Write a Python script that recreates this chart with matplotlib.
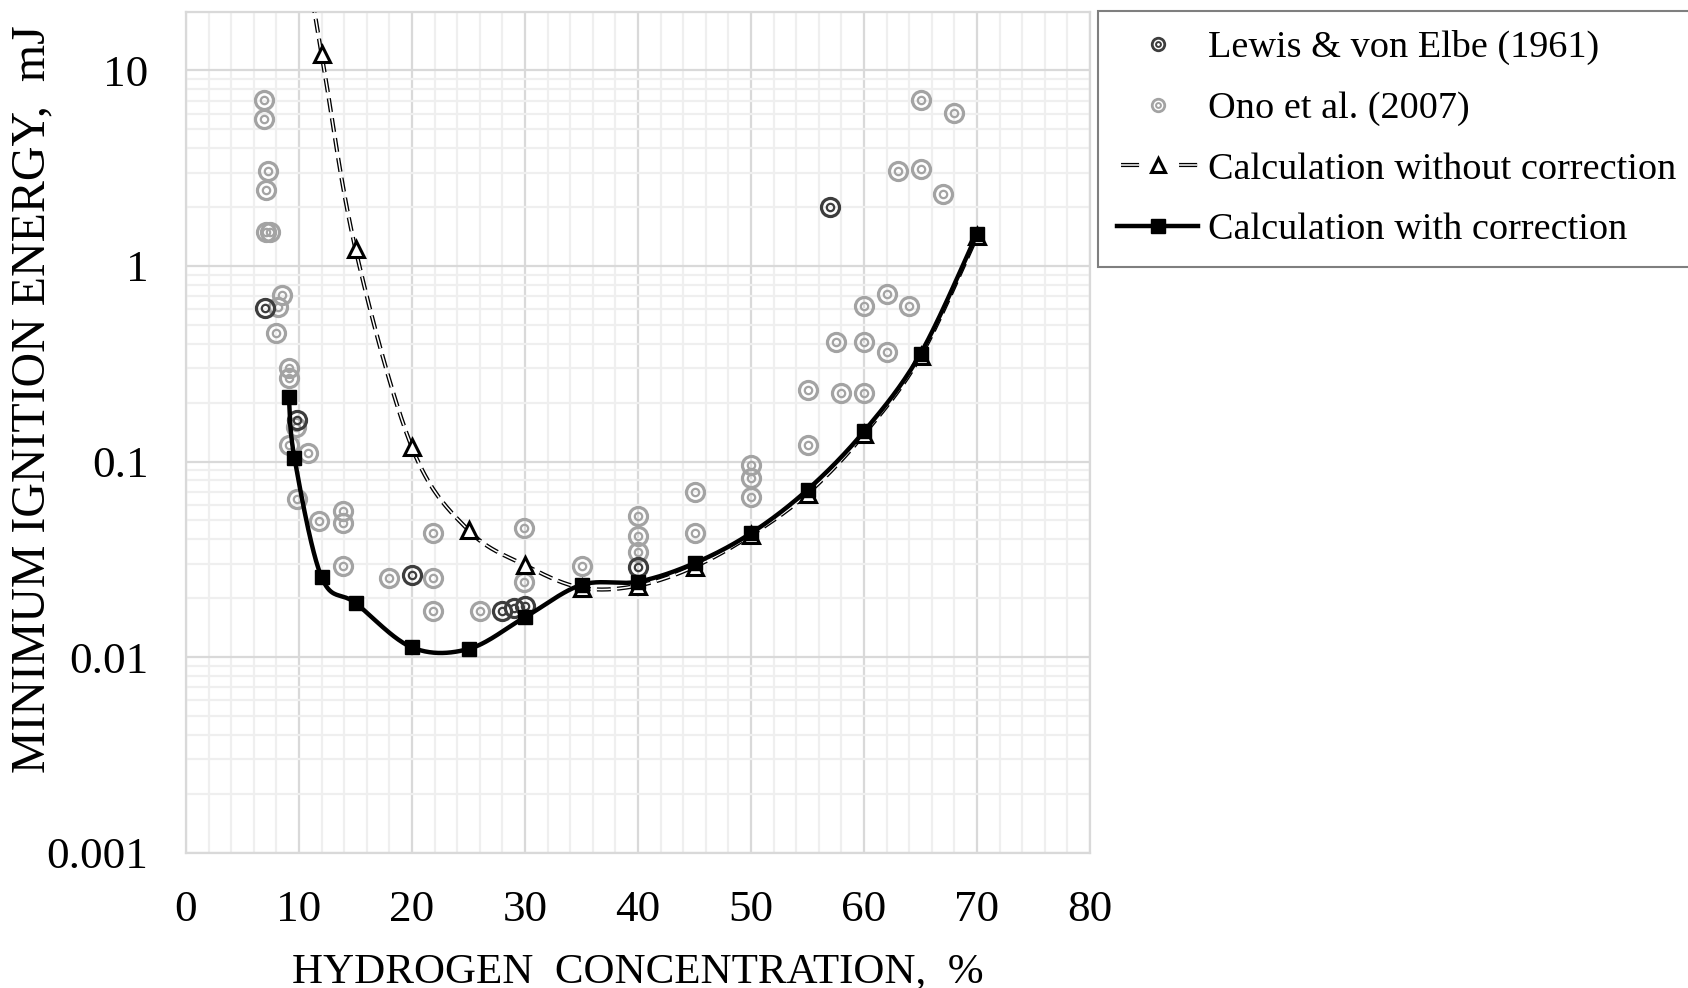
import numpy as np
import matplotlib
matplotlib.use("Agg")
import matplotlib.pyplot as plt
from matplotlib.lines import Line2D
from matplotlib.ticker import FixedLocator, FuncFormatter, LogLocator, NullFormatter

plt.rcParams['font.family'] = ['Liberation Serif', 'DejaVu Serif']
plt.rcParams['lines.scale_dashes'] = False

# Lewis & von Elbe (1961)
lewis_x = [7, 9.8, 20, 28, 29, 30, 40, 57]
lewis_y = [0.61, 0.164, 0.0263, 0.0172, 0.0178, 0.0182, 0.0288, 2.0]

# Ono et al. (2007)
ono_x = [6.9, 6.9, 7.25, 7.1, 7.1, 7.4, 8.5, 8.1, 8.0, 9.1, 9.1, 9.7, 9.1, 10.8, 9.8,
         11.8, 13.9, 13.9, 13.9, 18.0, 21.9, 21.9, 21.9, 26.0, 29.9, 29.9, 35.0,
         40, 40, 40, 45, 45, 50, 50, 50, 55, 55, 57.5, 58, 60, 60, 60, 62, 62, 64,
         63, 65, 65, 67, 68]
ono_y = [7.1, 5.66, 3.05, 2.44, 1.50, 1.50, 0.714, 0.617, 0.455, 0.301, 0.268, 0.151, 0.122, 0.111, 0.064,
         0.0497, 0.0556, 0.0484, 0.0293, 0.0253, 0.043, 0.0255, 0.0173, 0.0173, 0.0457, 0.0243, 0.0293,
         0.0528, 0.0414, 0.0344, 0.0695, 0.0431, 0.0964, 0.0823, 0.0658, 0.231, 0.122, 0.407, 0.224, 0.627, 0.407, 0.224, 0.72, 0.365, 0.627,
         3.05, 3.12, 7.1, 2.34, 6.03]

# Calculation without correction (first point is above the plot top)
nc_x = [10, 12, 15, 20, 25, 30, 35, 40, 45, 50, 55, 60, 65, 70]
nc_y = [60, 12.2, 1.22, 0.118, 0.0445, 0.0295, 0.0226, 0.0232, 0.0290, 0.0420, 0.0685, 0.138, 0.345, 1.42]

# Calculation with correction
c_x = [9.1, 9.6, 12, 15, 20, 25, 30, 35, 40, 45, 50, 55, 60, 65, 70]
c_y = [0.215, 0.104, 0.0256, 0.0189, 0.0112, 0.0110, 0.0160, 0.0234, 0.0243, 0.0302, 0.0430, 0.0717, 0.1425, 0.356, 1.46]

light = '#a3a3a3'
dark = '#3d3d3d'


def smooth(xs, ys, n=40):
    # Catmull-Rom curve in screen-like units (x linear, y log), like a spreadsheet smoothed line
    sx, sy = 11.3, 195.4
    p = np.column_stack([np.array(xs) * sx, np.log10(ys) * sy])
    p = np.vstack([p[0], p, p[-1]])
    out = []
    for i in range(1, len(p) - 2):
        p0, p1, p2, p3 = p[i - 1], p[i], p[i + 1], p[i + 2]
        m1 = (p2 - p0) / 2
        m2 = (p3 - p1) / 2
        t = np.linspace(0, 1, n)[:, None]
        h00 = 2 * t**3 - 3 * t**2 + 1
        h10 = t**3 - 2 * t**2 + t
        h01 = -2 * t**3 + 3 * t**2
        h11 = t**3 - t**2
        out.append(h00 * p1 + h10 * m1 + h01 * p2 + h11 * m2)
    out = np.vstack(out)
    return out[:, 0] / sx, 10 ** (out[:, 1] / sy)


fig = plt.figure(figsize=(16.88, 9.88), dpi=100)
ax = fig.add_axes([186 / 1688, 1 - 852.6 / 988, 904 / 1688, 841 / 988])

ax.set_yscale('log')
ax.set_xlim(0, 80)
ax.set_ylim(0.001, 20)

# grid
ax.xaxis.set_major_locator(FixedLocator(np.arange(0, 81, 10)))
ax.xaxis.set_minor_locator(FixedLocator(np.arange(0, 81, 2)))
ax.yaxis.set_major_locator(FixedLocator([0.001, 0.01, 0.1, 1, 10]))
ax.yaxis.set_minor_locator(LogLocator(base=10, subs=np.arange(2, 10)))
ax.yaxis.set_minor_formatter(NullFormatter())
ax.yaxis.set_major_formatter(FuncFormatter(lambda v, p: '%g' % v))
ax.grid(which='minor', color='#efefef', lw=1.6, zorder=0)
ax.grid(which='major', color='#d9d9d9', lw=1.6, zorder=0)
ax.set_axisbelow(True)
ax.tick_params(which='both', length=0, labelsize=32.5)
ax.tick_params(axis='y', pad=27)
ax.tick_params(axis='x', pad=27)
for s in ax.spines.values():
    s.set_color('#d9d9d9')
    s.set_linewidth(1.6)

# scatter data, double-ring markers
def rings(x, y, color, z):
    ax.plot(x, y, 'o', ls='none', ms=13, mfc='none', mec=color, mew=2.3, zorder=z)
    ax.plot(x, y, 'o', ls='none', ms=5.3, mfc='none', mec=color, mew=1.6, zorder=z)

rings(ono_x, ono_y, light, 3)
rings(lewis_x, lewis_y, dark, 4)

# calculation without correction
lx, ly = smooth(nc_x, nc_y)
ax.plot(lx, ly, color='black', lw=3.0, dashes=(10, 4.5), dash_capstyle='butt', zorder=5)
ax.plot(lx, ly, color='white', lw=1.1, dashes=(10, 4.5), dash_capstyle='butt', zorder=5)
ax.plot(nc_x, nc_y, '^', ls='none', ms=12, mfc='white', mec='black', mew=2.2, zorder=6)

# calculation with correction
lx, ly = smooth(c_x, c_y)
ax.plot(lx, ly, color='black', lw=3.2, zorder=7)
ax.plot(c_x, c_y, 's', ls='none', ms=10, color='black', zorder=8)

ax.set_xlabel('HYDROGEN  CONCENTRATION,  %', fontsize=31, labelpad=16)
fig.text(32 / 1688, 1 - 399.5 / 988, 'MINIMUM IGNITION ENERGY,  mJ', fontsize=34.5,
         rotation=90, ha='center', va='center')

# legend with proxy handles
h_lewis = (Line2D([], [], ls='none', marker='o', ms=9, mfc='none', mec=dark, mew=2),
           Line2D([], [], ls='none', marker='o', ms=3.5, mfc='none', mec=dark, mew=1.4))
h_ono = (Line2D([], [], ls='none', marker='o', ms=9, mfc='none', mec=light, mew=2),
         Line2D([], [], ls='none', marker='o', ms=3.5, mfc='none', mec=light, mew=1.4))
h_nc = (Line2D([], [], color='black', lw=3.0, ls=(38.9, (13, 28.8)), dash_capstyle='butt'),
        Line2D([], [], color='white', lw=1.1, ls=(38.9, (13, 28.8)), dash_capstyle='butt'),
        Line2D([], [], ls='none', marker='^', ms=10, mfc='white', mec='black', mew=2.2))
h_c = Line2D([], [], color='black', lw=3.2, marker='s', ms=10)

leg = fig.legend([h_lewis, h_ono, h_nc, h_c],
                 ['Lewis & von Elbe (1961)', 'Ono et al. (2007)',
                  'Calculation without correction', 'Calculation with correction'],
                 loc='upper left', bbox_to_anchor=(1098 / 1688, 1 - 11 / 988),
                 fontsize=27.5, frameon=True, fancybox=False, framealpha=1,
                 edgecolor='#7f7f7f', handlelength=2.13, handletextpad=0.26,
                 labelspacing=0.68, borderpad=0.5, borderaxespad=0)
leg.get_frame().set_linewidth(1.5)

fig.savefig('out.png', dpi=100)
